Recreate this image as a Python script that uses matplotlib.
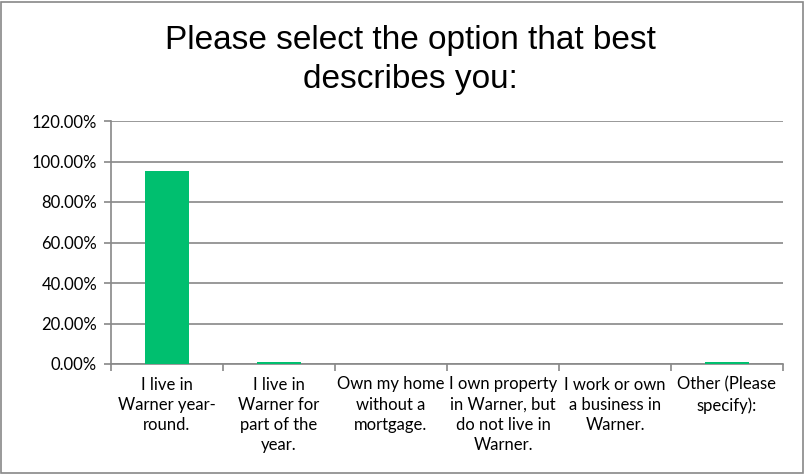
import numpy as np
import matplotlib.pyplot as plt
from matplotlib.ticker import FuncFormatter, MultipleLocator
from matplotlib.patches import Rectangle

categories = ["I live in\nWarner year-\nround.",
              "I live in\nWarner for\npart of the\nyear.",
              "Own my home\nwithout a\nmortgage.",
              "I own property\nin Warner, but\ndo not live in\nWarner.",
              "I work or own\na business in\nWarner.",
              "Other (Please\nspecify):"]
values = [95.5, 1.1, 0.0, 0.0, 0.0, 1.1]

title = "Please select the option that best\ndescribes you:"
bar_color = "#00BF6F"
grid_color = "#888888"

fig = plt.figure(figsize=(8.12, 4.74), dpi=100)
ax = fig.add_axes([111 / 812, 1 - 364 / 474, 672 / 812, 243 / 474])

x = np.arange(len(categories))
ax.bar(x, values, width=0.4, color=bar_color, zorder=3)

ax.set_xlim(-0.5, len(categories) - 0.5)
ax.set_ylim(0, 120)
ax.yaxis.set_major_locator(MultipleLocator(20))
ax.yaxis.set_major_formatter(FuncFormatter(lambda v, p: "%.2f%%" % v))
ax.grid(axis="y", color=grid_color, linewidth=1.2, zorder=0)

ax.set_xticks(np.arange(len(categories) + 1) - 0.5, minor=False)
ax.set_xticklabels([])
ax.set_xticks(x, minor=True)
ax.set_xticklabels(categories, minor=True, family="Lato", fontsize=12,
                   linespacing=1.33, va="top")
ax.tick_params(axis="x", which="minor", length=0, pad=9)
ax.tick_params(axis="x", which="major", length=5, color=grid_color, width=1.2)
ax.tick_params(axis="y", length=5, color=grid_color, width=1.2, pad=5)
for lab in ax.get_yticklabels():
    lab.set_family("Lato")
    lab.set_fontsize(12)

for s in ["top", "right"]:
    ax.spines[s].set_visible(False)
for s in ["left", "bottom"]:
    ax.spines[s].set_color(grid_color)
    ax.spines[s].set_linewidth(1.2)

fig.text(410 / 812, 1 - 60 / 474, title, ha="center", va="center",
         family="Liberation Sans", fontsize=24, linespacing=1.3)

fig.patches.append(Rectangle((1 / 812, 1 / 474), 1 - 10 / 812, 1 - 3 / 474,
                             transform=fig.transFigure, fill=False,
                             edgecolor="#888888", linewidth=1.2))

fig.savefig("out.png", dpi=100)
